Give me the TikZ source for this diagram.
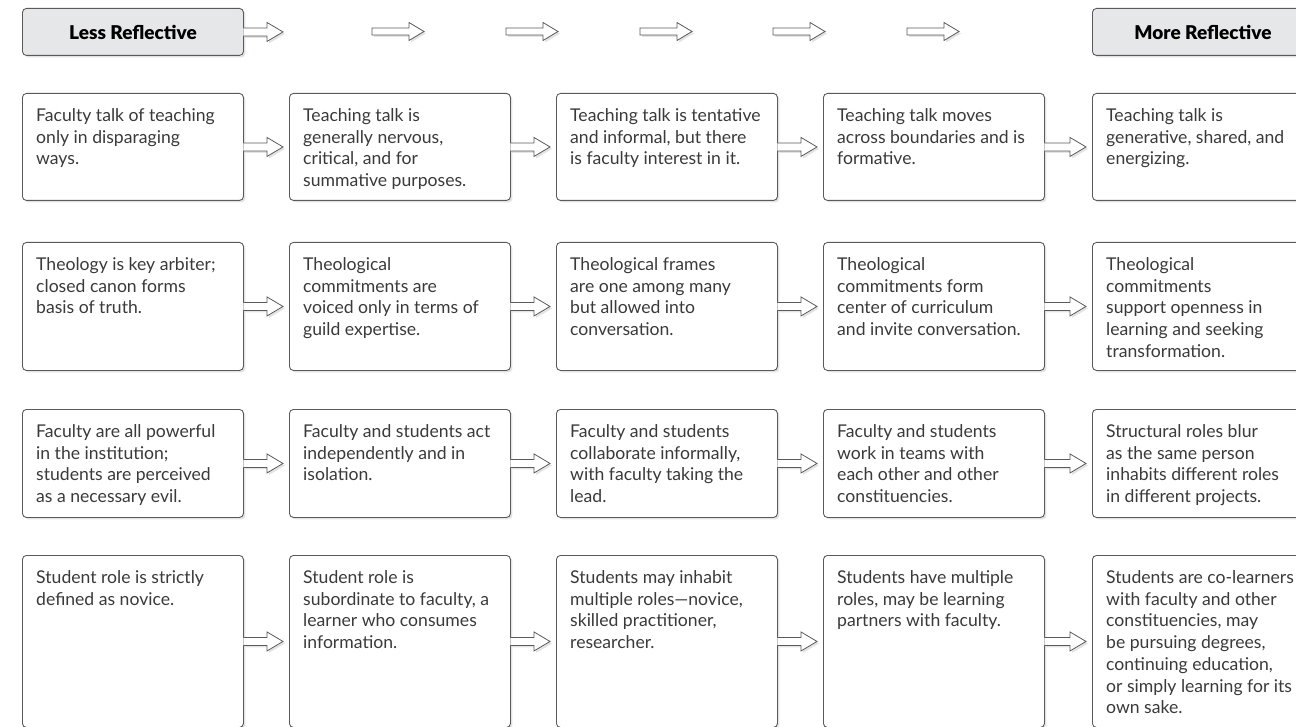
\documentclass[tikz,border=0pt]{standalone}
\usepackage{fontspec}
\setmainfont{Lato}
\newfontfamily\hdrfont{Lato Black}
\usetikzlibrary{shadows,calc}
\definecolor{boxline}{HTML}{5A5A5A}
\definecolor{hdrfill}{HTML}{E6E7E8}
\definecolor{txtc}{HTML}{3A3A3A}
\tikzset{
  shad/.style={drop shadow={opacity=0.22, shadow xshift=2pt, shadow yshift=-2pt}},
  cellbox/.style={draw=boxline, line width=0.9pt, rounded corners=4pt, fill=white,
    minimum width=221pt, inner sep=0pt, anchor=north west, shad},
  hdrbox/.style={cellbox, fill=hdrfill, minimum height=47pt, text=black,
    font=\hdrfont\fontsize{19}{21}\selectfont},
  celltext/.style={inner sep=0pt, anchor=base west, text=txtc,
    font=\fontsize{17.6}{21.7}\selectfont},
  fatarrow/.style={draw=boxline, line width=0.8pt, fill=white, line join=miter, shad},
}
\newcommand\cell[5]{%
  \node[cellbox, minimum height=#4pt] (#1) at (#2,#3) {};
  \node[celltext] (#1t) at (#2+14,#3+28.5) {\parbox[t]{215pt}{\raggedright #5}};}
% open-ended arrow leaving a box
\newcommand\boxarr[2]{%
  \path[fatarrow] let \p1=(#1), \p2=(#2) in
    (\x1-0.5pt,\y1+4pt) -- (\x2-16pt,\y1+4pt) -- (\x2-16pt,\y1+9.5pt) -- (\x2,\y1)
    -- (\x2-16pt,\y1-9.5pt) -- (\x2-16pt,\y1-4pt) -- (\x1-0.5pt,\y1-4pt);}
% free-standing arrow
\newcommand\freearr[2]{%
  \path[fatarrow] let \p1=(#1), \p2=(#2) in
    (\x1,\y1+3.5pt) -- (\x2-15pt,\y1+3.5pt) -- (\x2-15pt,\y1+9pt) -- (\x2,\y1)
    -- (\x2-15pt,\y1-9pt) -- (\x2-15pt,\y1-3.5pt) -- (\x1,\y1-3.5pt) -- cycle;}
\begin{document}
\begin{tikzpicture}[x=1pt,y=-1pt]
\useasboundingbox (0,0) rectangle (1296,727);
\clip (0,0) rectangle (1296,727);
% header
\node[hdrbox] (less) at (22,8) {Less Reflective};
\node[hdrbox] (more) at (1092,8) {More Reflective};
\coordinate (h0e) at (283,31.5);
\coordinate (h1s) at (372,31.5); \coordinate (h1e) at (424,31.5);
\coordinate (h2s) at (506,31.5); \coordinate (h2e) at (558,31.5);
\coordinate (h3s) at (640,31.5); \coordinate (h3e) at (692,31.5);
\coordinate (h4s) at (773,31.5); \coordinate (h4e) at (825,31.5);
\coordinate (h5s) at (907,31.5); \coordinate (h5e) at (959,31.5);
\boxarr{less.east}{h0e}
\freearr{h1s}{h1e}
\freearr{h2s}{h2e}
\freearr{h3s}{h3e}
\freearr{h4s}{h4e}
\freearr{h5s}{h5e}
% row 1
\cell{a1}{22}{93}{107}{Faculty talk of teaching\\only in disparaging\\ways.}
\cell{a2}{289}{93}{107}{Teaching talk is\\generally nervous,\\critical, and for\\summative purposes.}
\cell{a3}{556}{93}{107}{Teaching talk is tentative\\and informal, but there\\is faculty interest in it.}
\cell{a4}{823}{93}{107}{Teaching talk moves\\across boundaries and is\\formative.}
\cell{a5}{1092}{93}{107}{Teaching talk is\\generative, shared, and\\energizing.}
% row 2
\cell{b1}{22}{242}{128}{Theology is key arbiter;\\closed canon forms\\basis of truth.}
\cell{b2}{289}{242}{128}{Theological\\commitments are\\voiced only in terms of\\guild expertise.}
\cell{b3}{556}{242}{128}{Theological frames\\are one among many\\but allowed into\\conversation.}
\cell{b4}{823}{242}{128}{Theological\\commitments form\\center of curriculum\\and invite conversation.}
\cell{b5}{1092}{242}{128}{Theological\\commitments\\support openness in\\learning and seeking\\transformation.}
% row 3
\cell{c1}{22}{409}{108}{Faculty are all powerful\\in the institution;\\students are perceived\\as a necessary evil.}
\cell{c2}{289}{409}{108}{Faculty and students act\\independently and in\\isolation.}
\cell{c3}{556}{409}{108}{Faculty and students\\collaborate informally,\\with faculty taking the\\lead.}
\cell{c4}{823}{409}{108}{Faculty and students\\work in teams with\\each other and other\\constituencies.}
\cell{c5}{1092}{409}{108}{Structural roles blur\\as the same person\\inhabits different roles\\in different projects.}
% row 4
\cell{d1}{22}{555}{172}{Student role is strictly\\defined as novice.}
\cell{d2}{289}{555}{172}{Student role is\\subordinate to faculty, a\\learner who consumes\\information.}
\cell{d3}{556}{555}{172}{Students may inhabit\\multiple roles---novice,\\skilled practitioner,\\researcher.}
\cell{d4}{823}{555}{172}{Students have multiple\\roles, may be learning\\partners with faculty.}
\cell{d5}{1092}{555}{172}{Students are co-learners\\with faculty and other\\constituencies, may\\be pursuing degrees,\\continuing education,\\or simply learning for its\\own sake.}
% row arrows
\foreach \r in {a,b,c,d}{
  \foreach \i/\j in {1/2,2/3,3/4,4/5}{
    \coordinate (\r\i tip) at ($(\r\j.west)+(-6,0)$);
    \boxarr{\r\i.east}{\r\i tip}
  }
}
\end{tikzpicture}
\end{document}
